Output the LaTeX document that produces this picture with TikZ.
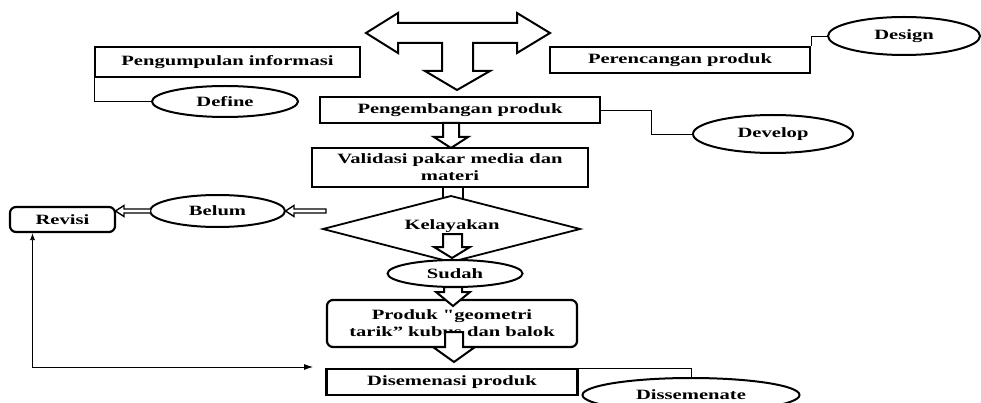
\documentclass[tikz,border=0pt]{standalone}
\usepackage{fontspec}
\newfontfamily\labelfont{Liberation Serif}[FakeStretch=1.45]
\usetikzlibrary{shapes.geometric,arrows.meta}

\begin{document}
\begin{tikzpicture}[x=1pt,y=-1pt,
    every node/.style={font=\labelfont\fontsize{14.2}{17}\selectfont\bfseries},
    box/.style={draw,line width=2.2pt,inner sep=0pt,minimum height=26pt},
    roundbox/.style={box,rounded corners=6pt},
    oval/.style={draw,ellipse,line width=2pt,inner sep=0pt,fill=white},
    fat/.style={draw,line width=2pt,fill=white,line join=miter},
    slim/.style={draw,line width=1.4pt,fill=white,line join=miter},
    link/.style={draw,line width=0.8pt}]
    \useasboundingbox (0,0) rectangle (981,403);
    \node[box,minimum width=265pt,minimum height=30pt] (info) at (227.5,62) {Pengumpulan informasi};
    \node[box,minimum width=260pt] (plan) at (680,60) {Perencangan produk};
    \node[box,minimum width=280pt] (devbox) at (460,110) {Pengembangan produk};
    \node[box,minimum width=276pt,minimum height=39pt,align=center] (valid) at (450,167.5) {Validasi pakar media dan\\materi};
    \draw[fat] (443,187) rectangle (463,205);
    \draw[line width=1.8pt,fill=white] (323,229) -- (451,196) -- (580,229) -- (451,262) -- cycle;
    \node (layak) at (452,226) {Kelayakan};
    \node[oval,minimum width=135pt,minimum height=27pt] (sudah) at (455,273.5) {Sudah};
    \node[roundbox,minimum width=250pt,minimum height=47pt,align=center] (produk) at (452,323.5) {Produk "geometri\\tarik” kubus dan balok};
    \node[box,minimum width=251pt] (disem) at (452,382) {Disemenasi produk};
    \node[roundbox,minimum width=105pt,minimum height=25pt] (revisi) at (62.5,219.5) {Revisi};

    \node[oval,minimum width=146pt,minimum height=31pt] (define) at (225,101.5) {Define};
    \node[oval,minimum width=152pt,minimum height=38pt] (design) at (904,36) {Design};
    \node[oval,minimum width=160pt,minimum height=38pt] (develop) at (773,134) {Develop};
    \node[oval,minimum width=135pt,minimum height=32pt] (belum) at (217.5,211) {Belum};
    \node[oval,minimum width=217pt,minimum height=34pt] (dissem) at (691,395) {Dissemenate};

    \draw[fat] (366,33) -- (398,13) -- (398,23) -- (517,23) -- (517,13) -- (550,33) -- (517,53)
        -- (517,43) -- (473,43) -- (473,71) -- (490,71) -- (457,90) -- (425,71) -- (442,71)
        -- (442,43) -- (398,43) -- (398,53) -- cycle;
    \draw[fat] (443,123) -- (459,123) -- (459,137) -- (468,137) -- (451,148) -- (434,137) -- (443,137) -- cycle;
    \draw[fat] (443,234) -- (462,234) -- (462,247) -- (470,247) -- (452,258) -- (434,247) -- (443,247) -- cycle;
    \draw[fat] (444,287) -- (462,287) -- (462,292) -- (470,292) -- (453,306) -- (436,292) -- (444,292) -- cycle;
    \draw[fat] (445,332) -- (463,332) -- (463,347) -- (475,347) -- (454,362) -- (433,347) -- (445,347) -- cycle;
    \draw[slim] (326,209) -- (294,209) -- (294,205.5) -- (285.5,211) -- (294,216.5) -- (294,213) -- (326,213) -- cycle;
    \draw[slim] (150,209) -- (124,209) -- (124,205.5) -- (115.5,211) -- (124,216.5) -- (124,213) -- (150,213);

    \draw[link] (info.south west) |- (define.west);
    \draw[link] (plan.north east) |- (design.west);
    \draw[link] (devbox.east) -- ++(50,0) |- (develop.west);
    \draw[link] (disem.north east) -| (dissem.north);
    \coordinate (back) at (313,367);
    \draw[link,{Latex[length=7pt,width=5pt]}-{Latex[length=9pt,width=6pt]}] ([xshift=-30pt]revisi.south) |- (back);
\end{tikzpicture}
\end{document}
